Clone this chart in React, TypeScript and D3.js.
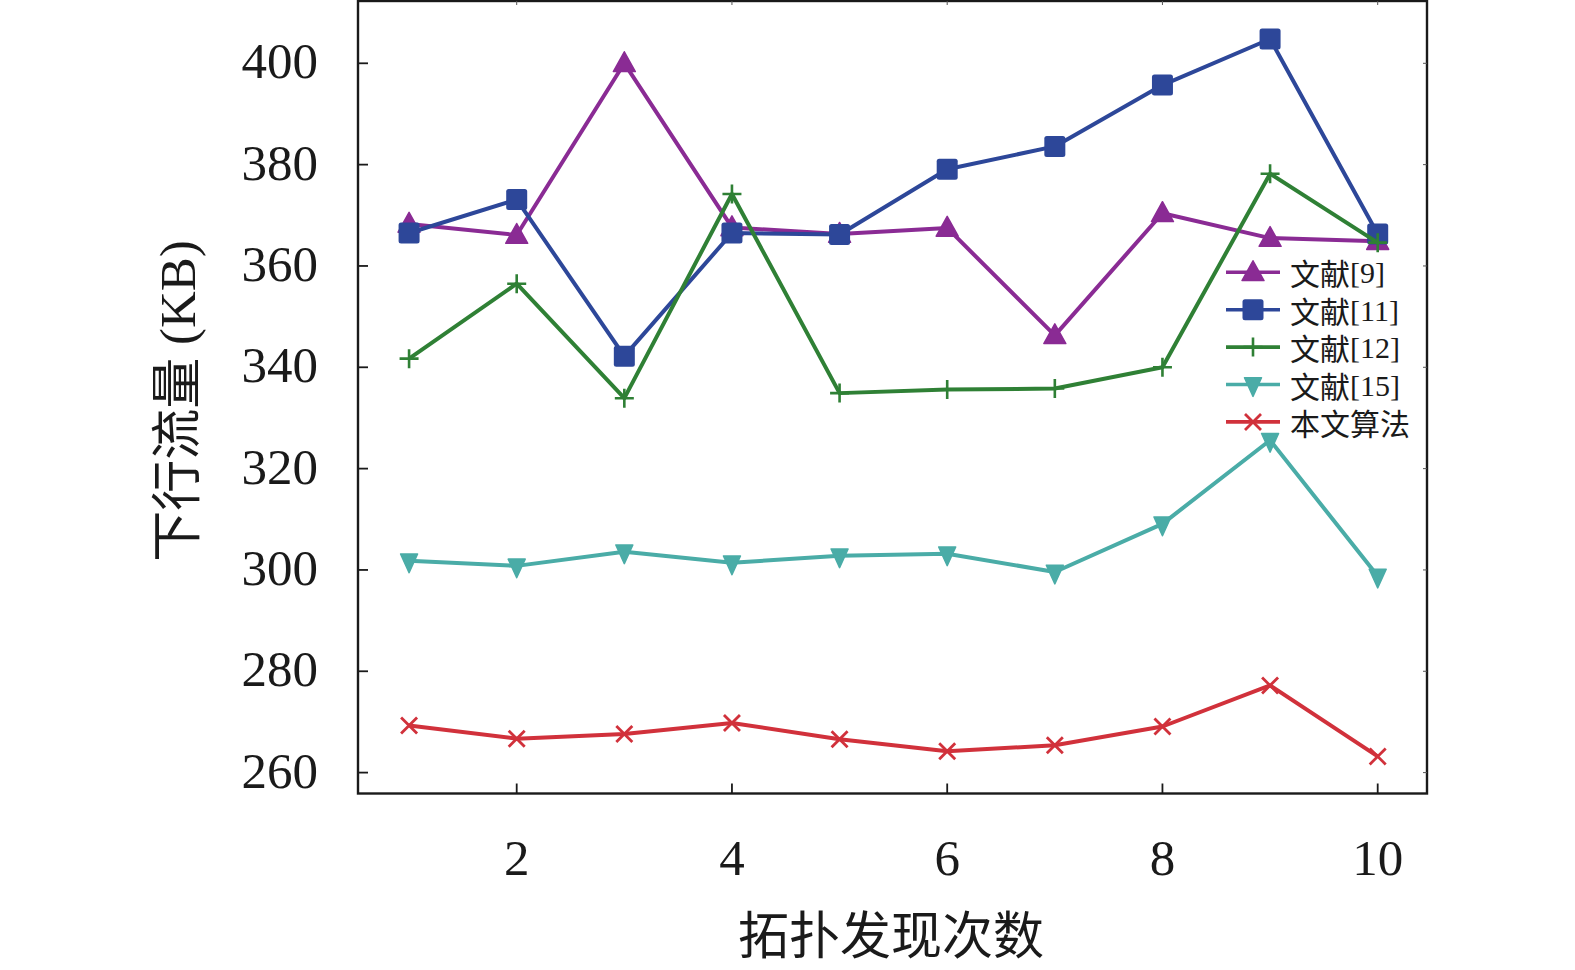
import React from "react";
import * as d3 from "d3";

const xValues = [1, 2, 3, 4, 5, 6, 7, 8, 9, 10];
const xTicks = [2, 4, 6, 8, 10];
const yTicks = [260, 280, 300, 320, 340, 360, 380, 400];

const seriesNames = ["文献[9]", "文献[11]", "文献[12]", "文献[15]", "本文算法"];
const ref9 = [368.3, 366.1, 400.0, 367.6, 366.3, 367.5, 346.3, 370.4, 365.5, 364.9];
const ref11 = [366.5, 373.1, 342.2, 366.5, 366.2, 379.1, 383.6, 395.7, 404.8, 366.3];
const ref12 = [341.7, 356.5, 333.9, 374.2, 334.9, 335.6, 335.8, 340.0, 378.2, 364.6];
const ref15 = [301.8, 300.8, 303.6, 301.4, 302.8, 303.2, 299.6, 309.1, 325.6, 298.8];
const ours = [269.3, 266.7, 267.6, 269.8, 266.6, 264.2, 265.4, 269.1, 277.2, 263.2];

const seriesValues = [ref9, ref11, ref12, ref15, ours];
const seriesColors = ["#8a2b94", "#2d4799", "#2f8035", "#4aaca7", "#d1313b"];
const seriesMarkers = ["triUp", "square", "plus", "triDown", "cross"];

const W = 1575;
const H = 970;
const left = 358;
const right = 1427;
const top = 1;
const bottom = 793.5;

const x = d3.scaleLinear().domain([2, 10]).range([516.7, 1377.7]);
const y = d3.scaleLinear().domain([260, 400]).range([772.6, 63.3]);

const SERIF = "'Liberation Serif', 'DejaVu Serif', serif";
const CJK = "'Noto Sans CJK SC', 'Noto Sans CJK JP', sans-serif";

function Marker({ kind, cx, cy, color }: { kind: string; cx: number; cy: number; color: string }) {
  if (kind === "triUp") {
    const s = 11;
    return (
      <path
        d={`M${cx},${cy - s * 1.05} L${cx + s},${cy + s * 0.75} L${cx - s},${cy + s * 0.75} Z`}
        fill={color}
        stroke={color}
        strokeWidth={1.5}
        strokeLinejoin="round"
      />
    );
  }
  if (kind === "triDown") {
    const s = 8.5;
    return (
      <path
        d={`M${cx - s},${cy - s * 0.8} L${cx + s},${cy - s * 0.8} L${cx},${cy + s * 1.4} Z`}
        fill={color}
        stroke={color}
        strokeWidth={1.5}
        strokeLinejoin="round"
      />
    );
  }
  if (kind === "square") {
    const s = 10.5;
    return <rect x={cx - s} y={cy - s} width={2 * s} height={2 * s} rx={2.5} fill={color} />;
  }
  if (kind === "plus") {
    const s = 9.5;
    return (
      <path
        d={`M${cx - s},${cy} L${cx + s},${cy} M${cx},${cy - s} L${cx},${cy + s}`}
        stroke={color}
        strokeWidth={2.6}
      />
    );
  }
  const s = 8;
  return (
    <path
      d={`M${cx - s},${cy - s} L${cx + s},${cy + s} M${cx - s},${cy + s} L${cx + s},${cy - s}`}
      stroke={color}
      strokeWidth={2.8}
    />
  );
}

export default function App() {
  const line = d3
    .line<number>()
    .x((_, i) => x(xValues[i]))
    .y((d) => y(d));

  const legendX = 1226;
  const legendY0 = 272.3;
  const legendStep = 37.4;

  return (
    <div style={{ position: "absolute", left: 0, top: 0, width: W, height: H, background: "#fff" }}>
      <svg width={W} height={H} viewBox={`0 0 ${W} ${H}`}>
        <rect x={0} y={0} width={W} height={H} fill="#fff" />

        {/* series */}
        {seriesValues.map((vals, si) => (
          <g key={si}>
            <path d={line(vals) || ""} fill="none" stroke={seriesColors[si]} strokeWidth={4} strokeLinejoin="round" />
            {vals.map((v, i) => (
              <Marker key={i} kind={seriesMarkers[si]} cx={x(xValues[i])} cy={y(v)} color={seriesColors[si]} />
            ))}
          </g>
        ))}

        {/* frame */}
        <rect x={left} y={top} width={right - left} height={bottom - top} fill="none" stroke="#1a1a1a" strokeWidth={2.4} />

        {/* y ticks */}
        {yTicks.map((t) => (
          <g key={t}>
            <line x1={left} x2={left + 10} y1={y(t)} y2={y(t)} stroke="#1a1a1a" strokeWidth={1.8} />
            <line x1={right} x2={right - 4} y1={y(t)} y2={y(t)} stroke="#555" strokeWidth={1} />
            <text
              x={318}
              y={y(t) - 2}
              textAnchor="end"
              dominantBaseline="central"
              fontFamily={SERIF}
              fontSize={51}
              fill="#1a1a1a"
            >
              {t}
            </text>
          </g>
        ))}

        {/* x ticks */}
        {xTicks.map((t) => (
          <g key={t}>
            <line x1={x(t)} x2={x(t)} y1={bottom} y2={bottom - 10} stroke="#1a1a1a" strokeWidth={1.8} />
            <line x1={x(t)} x2={x(t)} y1={top} y2={top + 4} stroke="#555" strokeWidth={1} />
            <text x={x(t)} y={875} textAnchor="middle" fontFamily={SERIF} fontSize={51} fill="#1a1a1a">
              {t}
            </text>
          </g>
        ))}

        {/* axis titles */}
        <text x={891} y={954} textAnchor="middle" fontFamily={CJK} fontSize={51} fill="#1a1a1a">
          拓扑发现次数
        </text>
        <text
          transform={`translate(195,401) rotate(-90)`}
          textAnchor="middle"
          fontSize={51}
          fill="#1a1a1a"
        >
          <tspan fontFamily={CJK}>下行流量</tspan>
          <tspan fontFamily={SERIF}> (KB)</tspan>
        </text>

        {/* legend */}
        {seriesNames.map((name, i) => {
          const ly = legendY0 + i * legendStep;
          return (
            <g key={name}>
              <line x1={legendX} x2={legendX + 54} y1={ly} y2={ly} stroke={seriesColors[i]} strokeWidth={3.6} />
              <Marker kind={seriesMarkers[i]} cx={legendX + 27} cy={ly} color={seriesColors[i]} />
              <text
                x={1290}
                y={ly}
                dominantBaseline="central"
                fontSize={30}
                fill="#1a1a1a"
              >
                {name.split(/(\[.*\])/).filter(Boolean).map((part, k) => (
                  <tspan key={k} fontFamily={part.startsWith("[") ? SERIF : CJK}>
                    {part}
                  </tspan>
                ))}
              </text>
            </g>
          );
        })}
      </svg>
    </div>
  );
}
